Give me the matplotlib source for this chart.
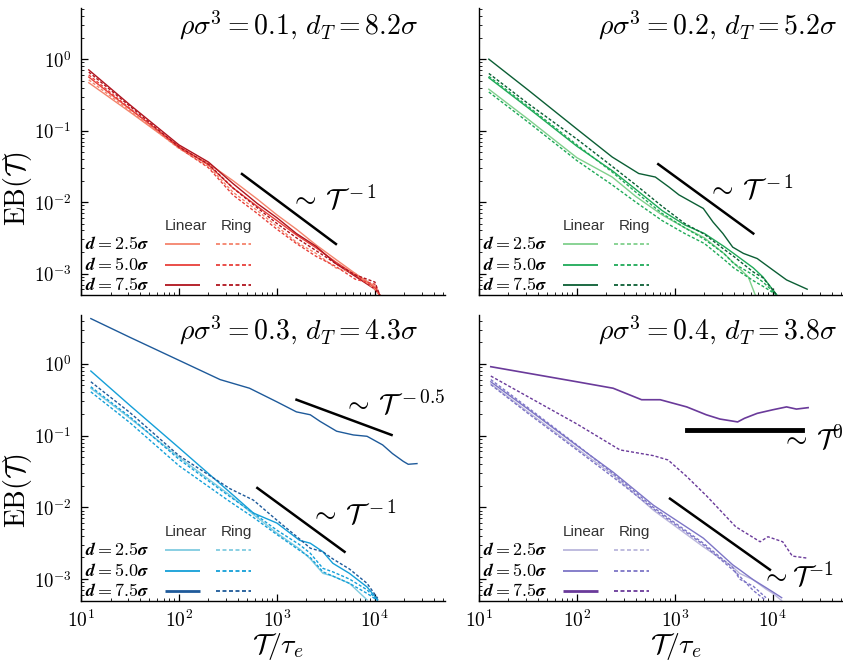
import numpy as np
import matplotlib
matplotlib.use("Agg")
import matplotlib.pyplot as plt
from matplotlib.ticker import LogLocator, FuncFormatter, NullFormatter

plt.rcParams['mathtext.fontset'] = 'cm'
plt.rcParams['font.family'] = ['DejaVu Sans']

# ---------- rho sigma^3 = 0.1 (red) ----------
red_T = [12, 31.6, 100, 200, 355, 630, 1000, 1580, 2510, 3980, 6310, 10000, 11200]
red_lin25 = [0.468, 0.182, 0.0575, 0.0347, 0.0200, 0.0110, 0.00661, 0.00417, 0.00251, 0.00158, 0.00100, 0.000661, 0.000501]
red_lin50 = [0.562, 0.200, 0.0603, 0.0331, 0.0158, 0.00871, 0.00550, 0.00347, 0.00229, 0.00145, 0.000955, 0.000631, 0.000501]
red_lin75 = [0.708, 0.229, 0.0631, 0.0363, 0.0182, 0.00955, 0.00603, 0.00363, 0.00240, 0.00138, 0.000912, 0.000603, 0.000501]
red_ring25 = [0.513, 0.191, 0.0562, 0.0316, 0.0138, 0.00759, 0.00457, 0.00275, 0.00191, 0.00120, 0.00100, 0.000603, 0.000501]
red_ring50 = [0.603, 0.204, 0.0575, 0.0302, 0.0126, 0.00692, 0.00417, 0.00263, 0.00174, 0.00126, 0.000832, 0.000708, 0.000501]
red_ring75 = [0.661, 0.219, 0.0589, 0.0339, 0.0158, 0.00832, 0.00501, 0.00316, 0.00209, 0.00138, 0.000955, 0.000759, 0.000501]
red_guide_T = [440, 4000]
red_guide_EB = [0.0247, 0.00259]

# ---------- rho sigma^3 = 0.2 (green) ----------
green_T = [12.6, 31.6, 100, 229, 398, 741, 1260, 2000, 3160, 3980, 6310, 7940, 10960]
green_lin75_T = [12.6, 31.6, 100, 229, 427, 631, 871, 1100, 1950, 2450, 3090, 3890, 5010, 6920, 10000, 13800, 22400]
green_lin75 = [1.00, 0.372, 0.105, 0.0427, 0.0251, 0.0224, 0.0162, 0.0126, 0.00813, 0.00525, 0.00363, 0.00234, 0.00191, 0.00162, 0.00112, 0.000813, 0.000603]
green_lin50 = [0.550, 0.209, 0.0603, 0.0275, 0.0151, 0.00759, 0.00479, 0.00363, 0.00240, 0.00191, 0.00120, 0.000891, 0.000501]
green_lin25_T = [12.6, 31.6, 100, 229, 398, 741, 1260, 2000, 3160, 3980, 5620, 6610]
green_lin25 = [0.380, 0.145, 0.0417, 0.0224, 0.0120, 0.00661, 0.00437, 0.00316, 0.00191, 0.00141, 0.000891, 0.000501]
green_ring75 = [0.631, 0.240, 0.0759, 0.0316, 0.0174, 0.00871, 0.00501, 0.00355, 0.00219, 0.00174, 0.00105, 0.000871, 0.000501]
green_ring50 = [0.575, 0.219, 0.0631, 0.0263, 0.0138, 0.00692, 0.00437, 0.00302, 0.00191, 0.00138, 0.000955, 0.000759, 0.000501]
green_ring25 = [0.347, 0.132, 0.0380, 0.0174, 0.0100, 0.00550, 0.00363, 0.00263, 0.00158, 0.00120, 0.000794, 0.000661, 0.000501]
green_guide_T = [676, 6310]
green_guide_EB = [0.0339, 0.00363]

# ---------- rho sigma^3 = 0.3 (blue) ----------
blue_T = [12.6, 31.6, 100, 331, 575, 1000, 1700, 2190, 2950, 3720, 5500, 8320, 10700]
blue_lin75_T = [12.6, 31.6, 100, 263, 525, 1000, 1580, 2190, 2750, 4070, 6030, 8320, 12000, 15100, 19500, 21900, 26900]
blue_lin75 = [4.27, 2.34, 1.12, 0.603, 0.457, 0.295, 0.214, 0.195, 0.158, 0.115, 0.102, 0.0977, 0.0741, 0.0562, 0.0437, 0.0398, 0.0407]
blue_lin50 = [0.794, 0.263, 0.0676, 0.0162, 0.00832, 0.00603, 0.00347, 0.00316, 0.00240, 0.00166, 0.00120, 0.000776, 0.000513]
blue_lin25 = [0.457, 0.174, 0.0501, 0.0148, 0.00794, 0.00437, 0.00263, 0.00191, 0.00120, 0.00110, 0.000871, 0.000513]
blue_ring75 = [0.562, 0.209, 0.0525, 0.0182, 0.0126, 0.00661, 0.00363, 0.00269, 0.00240, 0.00191, 0.00138, 0.000871, 0.000537]
blue_ring50 = [0.479, 0.182, 0.0468, 0.0141, 0.00832, 0.00479, 0.00302, 0.00229, 0.00141, 0.00126, 0.00100, 0.000708, 0.000501]
blue_ring25 = [0.407, 0.151, 0.0380, 0.0120, 0.00724, 0.00417, 0.00251, 0.00200, 0.00126, 0.00110, 0.000871, 0.000631, 0.000501]
blue_guide05_T = [1585, 14800]
blue_guide05_EB = [0.316, 0.102]
blue_guide1_T = [631, 4900]
blue_guide1_EB = [0.0186, 0.00240]

# ---------- rho sigma^3 = 0.4 (purple) ----------
purple_T = [13.2, 31.6, 100, 234, 603, 1950, 3890, 4570, 6310, 8510, 10000, 12300]
purple_lin75_T = [13.2, 100, 234, 457, 708, 1320, 2090, 2880, 4370, 5130, 6920, 10000, 13800, 17400, 22900]
purple_lin75 = [0.912, 0.562, 0.457, 0.316, 0.316, 0.251, 0.195, 0.170, 0.155, 0.174, 0.204, 0.229, 0.251, 0.234, 0.245]
purple_ring75_T = [13.2, 100, 275, 603, 851, 1320, 2140, 4170, 7410, 8910, 12600, 15800, 22900]
purple_ring75 = [0.676, 0.145, 0.0631, 0.0525, 0.0457, 0.0269, 0.0141, 0.00537, 0.00331, 0.00389, 0.00331, 0.00209, 0.00195]
purple_lin50 = [0.562, 0.234, 0.0724, 0.0309, 0.0107, 0.00372, 0.00158, 0.00135, 0.000977, 0.000759, 0.000661, 0.000550]
purple_lin25 = [0.525, 0.214, 0.0661, 0.0282, 0.00912, 0.00282, 0.00148, 0.00120, 0.000977, 0.000724, 0.000631, 0.000501]
purple_ring50 = [0.603, 0.245, 0.0741, 0.0295, 0.0100, 0.00316, 0.00145, 0.00100, 0.000794, 0.000550]
purple_ring25 = [0.513, 0.204, 0.0631, 0.0263, 0.00955, 0.00302, 0.00135, 0.00110, 0.000692, 0.000501]
purple_guide0_T = [1320, 20000]
purple_guide0_EB = [0.120, 0.120]
purple_guide1_T = [891, 9330]
purple_guide1_EB = [0.0132, 0.00135]

red_colors = ['#f4846c', '#e8403a', '#b0141e']
green_colors = ['#80d08c', '#1faa58', '#0b5e34']
blue_colors = ['#80cce0', '#149fd8', '#1e5a9a']
purple_colors = ['#bab6dc', '#7d75c6', '#6a3a9a']

d_labels = [r'$\boldsymbol{d = 2.5\sigma}$', r'$\boldsymbol{d = 5.0\sigma}$', r'$\boldsymbol{d = 7.5\sigma}$']
DASH = (0, (2.2, 1.4))

fig = plt.figure(figsize=(8.43, 6.67), dpi=100)
ax_tl = fig.add_axes([0.0961, 0.5577, 0.4318, 0.4303])
ax_tr = fig.add_axes([0.5682, 0.5577, 0.4318, 0.4303])
ax_bl = fig.add_axes([0.0961, 0.0990, 0.4318, 0.4288])
ax_br = fig.add_axes([0.5682, 0.0990, 0.4318, 0.4288])


def style_axes(ax, show_x, show_y, ylim, ylab_y):
    ax.set_xscale('log')
    ax.set_yscale('log')
    ax.set_xlim(10, 5.2e4)
    ax.set_ylim(*ylim)
    for s in ['top', 'right']:
        ax.spines[s].set_visible(False)
    for s in ['left', 'bottom']:
        ax.spines[s].set_linewidth(1.0)
    fmt = FuncFormatter(lambda v, p: r'$10^{%d}$' % int(round(np.log10(v))))
    for axis in [ax.xaxis, ax.yaxis]:
        axis.set_major_locator(LogLocator(base=10, numticks=12))
        axis.set_minor_locator(LogLocator(base=10, subs=np.arange(2, 10), numticks=12))
        axis.set_minor_formatter(NullFormatter())
        axis.set_major_formatter(fmt)
    ax.tick_params(which='major', direction='in', length=5, width=0.9)
    ax.tick_params(which='minor', direction='in', length=2.5, width=0.6)
    ax.tick_params(axis='y', labelsize=13.5, pad=7)
    ax.tick_params(axis='x', labelsize=14, pad=6)
    if not show_x:
        ax.tick_params(axis='x', labelbottom=False)
    else:
        ax.set_xlabel(r'$\mathcal{T}/\tau_e$', fontsize=20)
        ax.xaxis.set_label_coords(0.54, -0.105)
    if not show_y:
        ax.tick_params(axis='y', labelleft=False)
    else:
        ax.set_ylabel(r'$\mathrm{EB}(\mathcal{T})$', fontsize=20)
        ax.yaxis.set_label_coords(-0.13, ylab_y)


def legend_table(ax, colors, thick_last):
    ax.text(0.288, 0.24, 'Linear', transform=ax.transAxes, ha='center', va='center',
            fontsize=11, color='#333333', family='Liberation Sans')
    ax.text(0.426, 0.24, 'Ring', transform=ax.transAxes, ha='center', va='center',
            fontsize=11, color='#333333', family='Liberation Sans')
    rows = [0.178, 0.106, 0.036]
    for i, yy in enumerate(rows):
        ax.text(0.012, yy, d_labels[i], transform=ax.transAxes, ha='left', va='center', fontsize=13)
        lw = 2.0 if (thick_last and i == 2) else 1.3
        ax.plot([0.231, 0.327], [yy, yy], transform=ax.transAxes, color=colors[i], lw=lw,
                solid_capstyle='butt')
        ax.plot([0.371, 0.467], [yy, yy], transform=ax.transAxes, color=colors[i], lw=1.3,
                ls=DASH)


def title(ax, text, xr, yb):
    ax.text(xr, yb, text, transform=ax.transAxes, ha='right', va='baseline', fontsize=20)


# top left
style_axes(ax_tl, False, True, (5e-4, 5.2), 0.37)
for eb, c in [(red_lin25, 0), (red_lin50, 1), (red_lin75, 2)]:
    ax_tl.plot(red_T, eb, color=red_colors[c], lw=1.0)
for eb, c in [(red_ring25, 0), (red_ring50, 1), (red_ring75, 2)]:
    ax_tl.plot(red_T, eb, color=red_colors[c], lw=1.0, ls=DASH)
ax_tl.plot(red_guide_T, red_guide_EB, color='black', lw=1.8)
ax_tl.text(1350, 0.0107, r'$\sim\,\mathcal{T}^{\,-1}$', fontsize=20, ha='left', va='center')
legend_table(ax_tl, red_colors, False)
title(ax_tl, r'$\rho\sigma^3 = 0.1,\, d_T = 8.2\sigma$', 0.926, 0.906)

# top right
style_axes(ax_tr, False, False, (5e-4, 5.2), 0.37)
ax_tr.plot(green_lin25_T, green_lin25, color=green_colors[0], lw=1.0)
ax_tr.plot(green_T, green_lin50, color=green_colors[1], lw=1.0)
ax_tr.plot(green_lin75_T, green_lin75, color=green_colors[2], lw=1.0)
for eb, c in [(green_ring25, 1), (green_ring50, 1), (green_ring75, 2)]:
    ax_tr.plot(green_T, eb, color=green_colors[c], lw=1.0, ls=DASH)
ax_tr.plot(green_guide_T, green_guide_EB, color='black', lw=1.8)
ax_tr.text(2140, 0.0148, r'$\sim\,\mathcal{T}^{\,-1}$', fontsize=20, ha='left', va='center')
legend_table(ax_tr, green_colors, False)
title(ax_tr, r'$\rho\sigma^3 = 0.2,\, d_T = 5.2\sigma$', 0.984, 0.906)

# bottom left
style_axes(ax_bl, True, True, (4.95e-4, 4.8), 0.385)
ax_bl.plot(blue_T[:12], blue_lin25, color=blue_colors[0], lw=1.0)
ax_bl.plot(blue_T, blue_lin50, color=blue_colors[1], lw=1.0)
ax_bl.plot(blue_lin75_T, blue_lin75, color=blue_colors[2], lw=1.0)
for eb, c in [(blue_ring25, 1), (blue_ring50, 1), (blue_ring75, 2)]:
    ax_bl.plot(blue_T, eb, color=blue_colors[c], lw=1.0, ls=DASH)
ax_bl.plot(blue_guide05_T, blue_guide05_EB, color='black', lw=1.8)
ax_bl.plot(blue_guide1_T, blue_guide1_EB, color='black', lw=1.8)
ax_bl.text(4700, 0.269, r'$\sim\,\mathcal{T}^{\,-0.5}$', fontsize=20, ha='left', va='center',
           clip_on=False)
ax_bl.text(2190, 0.0078, r'$\sim\,\mathcal{T}^{\,-1}$', fontsize=20, ha='left', va='center')
legend_table(ax_bl, blue_colors, True)
title(ax_bl, r'$\rho\sigma^3 = 0.3,\, d_T = 4.3\sigma$', 0.926, 0.913)

# bottom right
style_axes(ax_br, True, False, (4.95e-4, 4.8), 0.385)
ax_br.plot(purple_T, purple_lin25, color=purple_colors[0], lw=1.0)
ax_br.plot(purple_T, purple_lin50, color=purple_colors[1], lw=1.0)
ax_br.plot(purple_lin75_T, purple_lin75, color=purple_colors[2], lw=1.2)
ax_br.plot(purple_T[:10], purple_ring25, color=purple_colors[1], lw=1.0, ls=DASH)
ax_br.plot(purple_T[:10], purple_ring50, color=purple_colors[1], lw=1.0, ls=DASH)
ax_br.plot(purple_ring75_T, purple_ring75, color=purple_colors[2], lw=1.0, ls=DASH)
ax_br.plot(purple_guide0_T, purple_guide0_EB, color='black', lw=3.5)
ax_br.plot(purple_guide1_T, purple_guide1_EB, color='black', lw=1.8)
ax_br.text(12000, 0.0871, r'$\sim\,\mathcal{T}^{0}$', fontsize=20, ha='left', va='center', clip_on=False)
ax_br.text(7600, 0.00107, r'$\sim\mathcal{T}^{-1}$', fontsize=20, ha='left', va='center', clip_on=False)
legend_table(ax_br, purple_colors, True)
title(ax_br, r'$\rho\sigma^3 = 0.4,\, d_T = 3.8\sigma$', 0.984, 0.913)

fig.savefig('out.png', dpi=100)
